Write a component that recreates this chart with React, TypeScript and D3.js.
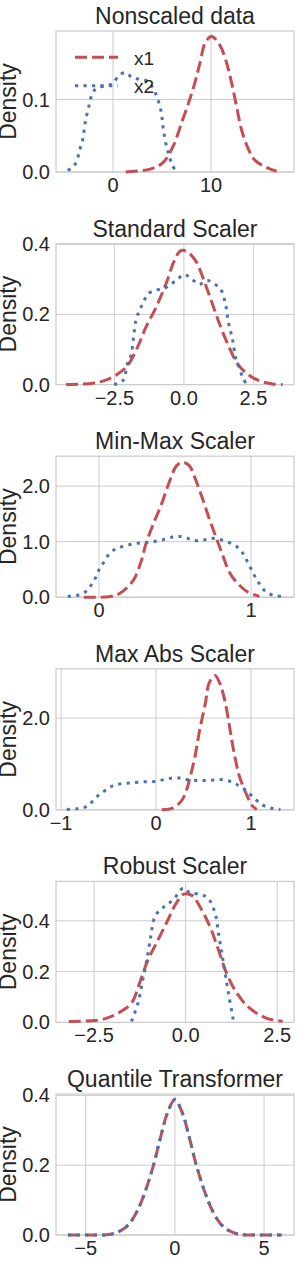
import React from 'react';
import * as d3 from 'd3';

type Pt = [number, number];

const titles = ['Nonscaled data', 'Standard Scaler', 'Min-Max Scaler', 'Max Abs Scaler', 'Robust Scaler', 'Quantile Transformer'];
const seriesNames = ['x1', 'x2'];

// density curves, [value, density]
const nonscaledX1: Pt[] = [
  [1.3, 0.0], [3.8, 0.004], [5.1, 0.013], [6.15, 0.036], [7.0, 0.068], [7.7, 0.095], [8.35, 0.123],
  [8.9, 0.152], [9.4, 0.178], [10.05, 0.187], [10.9, 0.175], [11.6, 0.15], [12.1, 0.123], [12.6, 0.091],
  [13.1, 0.059], [13.8, 0.032], [14.5, 0.016], [15.7, 0.006], [16.7, 0.001],
];
const nonscaledX2: Pt[] = [
  [-4.62, 0.002], [-3.95, 0.009], [-3.6, 0.02], [-3.37, 0.032], [-3.09, 0.045], [-2.83, 0.069], [-2.42, 0.093],
  [-2.14, 0.107], [-1.73, 0.115], [-0.8, 0.119], [-0.03, 0.122], [0.58, 0.133], [1.26, 0.137], [2.0, 0.13],
  [2.68, 0.128], [3.54, 0.125], [4.32, 0.109], [4.9, 0.084], [5.13, 0.059], [5.48, 0.034], [5.74, 0.022],
  [6.0, 0.011], [6.36, 0.002],
];
const standardX1: Pt[] = [
  [-4.24, 0.0], [-3.28, 0.004], [-2.81, 0.013], [-2.38, 0.03], [-2.03, 0.054], [-1.67, 0.106], [-1.37, 0.163],
  [-1.01, 0.219], [-0.65, 0.286], [-0.35, 0.352], [-0.11, 0.382], [0.13, 0.378], [0.43, 0.352], [0.73, 0.295],
  [1.03, 0.229], [1.33, 0.163], [1.63, 0.106], [1.93, 0.059], [2.29, 0.03], [2.71, 0.011], [3.19, 0.002], [3.55, 0.0],
];
const standardX2: Pt[] = [
  [-2.51, 0.0], [-2.2, 0.011], [-2.03, 0.059], [-1.91, 0.082], [-1.81, 0.134], [-1.73, 0.182], [-1.61, 0.21],
  [-1.46, 0.233], [-1.31, 0.257], [-1.03, 0.269], [-0.74, 0.273], [-0.47, 0.286], [-0.23, 0.3], [0.01, 0.314],
  [0.29, 0.3], [0.55, 0.286], [0.85, 0.297], [1.1, 0.287], [1.33, 0.271], [1.51, 0.224], [1.59, 0.182],
  [1.69, 0.148], [1.77, 0.12], [1.87, 0.073], [2.01, 0.045], [2.11, 0.021], [2.23, 0.004],
];
const minMaxX1: Pt[] = [
  [-0.1, 0.0], [0.068, 0.01], [0.134, 0.065], [0.189, 0.185], [0.232, 0.334], [0.276, 0.634], [0.309, 0.962],
  [0.353, 1.293], [0.408, 1.652], [0.462, 2.07], [0.511, 2.37], [0.551, 2.43], [0.594, 2.37], [0.638, 2.1],
  [0.682, 1.77], [0.726, 1.41], [0.77, 1.08], [0.814, 0.754], [0.857, 0.454], [0.913, 0.244], [0.978, 0.095],
  [1.055, 0.015],
];
const minMaxX2: Pt[] = [
  [-0.206, 0.015], [-0.14, 0.036], [-0.09, 0.095], [-0.053, 0.215], [-0.02, 0.364], [0.002, 0.503], [0.035, 0.646],
  [0.068, 0.783], [0.112, 0.873], [0.166, 0.921], [0.226, 0.962], [0.283, 0.98], [0.342, 0.993], [0.401, 1.023],
  [0.459, 1.065], [0.511, 1.1], [0.568, 1.075], [0.62, 1.023], [0.678, 1.023], [0.737, 1.06], [0.792, 1.041],
  [0.847, 0.993], [0.901, 0.921], [0.941, 0.813], [0.972, 0.664], [1.0, 0.513], [1.028, 0.364], [1.059, 0.226],
  [1.094, 0.108], [1.143, 0.036], [1.197, 0.015],
];
const maxAbsX1: Pt[] = [
  [0.06, 0.0], [0.18, 0.044], [0.27, 0.2], [0.32, 0.42], [0.36, 0.72], [0.41, 1.16], [0.46, 1.74], [0.52, 2.33],
  [0.56, 2.77], [0.62, 2.93], [0.67, 2.77], [0.73, 2.33], [0.78, 1.74], [0.83, 1.16], [0.88, 0.72], [0.95, 0.35],
  [1.01, 0.095], [1.06, 0.007],
];
const maxAbsX2: Pt[] = [
  [-0.94, 0.007], [-0.83, 0.022], [-0.73, 0.073], [-0.66, 0.2], [-0.59, 0.35], [-0.52, 0.44], [-0.45, 0.53],
  [-0.36, 0.57], [-0.26, 0.59], [-0.13, 0.61], [-0.01, 0.62], [0.11, 0.67], [0.22, 0.7], [0.32, 0.66],
  [0.43, 0.64], [0.55, 0.64], [0.67, 0.66], [0.78, 0.62], [0.87, 0.53], [0.95, 0.42], [1.01, 0.3], [1.08, 0.17],
  [1.17, 0.057], [1.31, 0.007],
];
const robustX1: Pt[] = [
  [-3.19, 0.004], [-2.29, 0.011], [-1.84, 0.037], [-1.48, 0.076], [-1.26, 0.154], [-1.03, 0.245], [-0.76, 0.323],
  [-0.49, 0.401], [-0.27, 0.466], [-0.05, 0.505], [0.18, 0.499], [0.4, 0.453], [0.67, 0.375], [0.9, 0.284],
  [1.12, 0.193], [1.4, 0.115], [1.75, 0.056], [2.2, 0.017], [2.65, 0.004],
];
const robustX2: Pt[] = [
  [-1.48, 0.004], [-1.3, 0.076], [-1.17, 0.167], [-1.03, 0.271], [-0.94, 0.349], [-0.86, 0.408], [-0.72, 0.44],
  [-0.54, 0.46], [-0.32, 0.486], [-0.06, 0.529], [0.13, 0.508], [0.4, 0.505], [0.63, 0.486], [0.81, 0.427],
  [0.9, 0.349], [0.99, 0.271], [1.08, 0.193], [1.17, 0.115], [1.3, 0.011],
];
const quantileX1: Pt[] = [
  [-6.0, 0.0], [-4.5, 0.0], [-3.6, 0.002], [-3.05, 0.012], [-2.58, 0.031], [-2.11, 0.069], [-1.65, 0.127],
  [-1.18, 0.204], [-0.8, 0.281], [-0.43, 0.348], [0.0, 0.388], [0.43, 0.348], [0.8, 0.281], [1.18, 0.204],
  [1.65, 0.127], [2.11, 0.069], [2.58, 0.031], [3.05, 0.012], [3.6, 0.002], [4.5, 0.0], [6.0, 0.0],
];
const quantileX2: Pt[] = [
  [-6.0, 0.0], [-4.5, 0.0], [-3.6, 0.002], [-3.05, 0.012], [-2.58, 0.031], [-2.11, 0.069], [-1.65, 0.127],
  [-1.18, 0.204], [-0.8, 0.281], [-0.43, 0.348], [0.0, 0.388], [0.43, 0.348], [0.8, 0.281], [1.18, 0.204],
  [1.65, 0.127], [2.11, 0.069], [2.58, 0.031], [3.05, 0.012], [3.6, 0.002], [4.5, 0.0], [6.0, 0.0],
];

const x1Series = [nonscaledX1, standardX1, minMaxX1, maxAbsX1, robustX1, quantileX1];
const x2Series = [nonscaledX2, standardX2, minMaxX2, maxAbsX2, robustX2, quantileX2];

const xTicks = [[0, 10], [-2.5, 0, 2.5], [0, 1], [-1, 0, 1], [-2.5, 0, 2.5], [-5, 0, 5]];
const yTicks = [[0, 0.1], [0, 0.2, 0.4], [0, 1, 2], [0, 2], [0, 0.2, 0.4], [0, 0.2, 0.4]];
const xFormats = ['d', '.1f', 'd', 'd', '.1f', 'd'];

// axis limits per panel
const xDomains: [number, number][] = [[-5.82, 18.47], [-4.6, 3.96], [-0.283, 1.283], [-1.053, 1.453], [-3.54, 2.96], [-6.67, 6.68]];
const yDomains: [number, number][] = [[0, 0.1945], [0, 0.402], [0, 2.54], [0, 3.077], [0, 0.555], [0, 0.404]];

const W = 298;
const H = 1263;
const left = 56;
const right = 294;
const top0 = 31;
const step = 212.6;
const plotH = 141;

const RED = '#c44e52';
const BLUE = '#4c72b0';
const GRID = '#cccccc';
const TEXT = '#262626';
const FONT = '"Liberation Sans", Arial, sans-serif';

const Panel: React.FC<{ i: number }> = ({ i }) => {
  const top = top0 + step * i;
  const bottom = top + plotH;
  const x = d3.scaleLinear().domain(xDomains[i]).range([left, right]);
  const y = d3.scaleLinear().domain(yDomains[i]).range([bottom, top]);
  const line = d3.line<Pt>()
    .x(d => x(d[0]))
    .y(d => y(d[1]))
    .curve(d3.curveCatmullRom.alpha(0.5));
  const fx = d3.format(xFormats[i]);
  const fy = d3.format('.1f');

  return (
    <g>
      {xTicks[i].map(t => (
        <line key={'gx' + t} x1={x(t)} x2={x(t)} y1={top} y2={bottom} stroke={GRID} strokeWidth={1} />
      ))}
      {yTicks[i].map(t => (
        <line key={'gy' + t} x1={left} x2={right} y1={y(t)} y2={y(t)} stroke={GRID} strokeWidth={1} />
      ))}
      <rect x={left} y={top} width={right - left} height={plotH} fill="none" stroke={GRID} strokeWidth={1.25} />

      <path d={line(x1Series[i]) || ''} fill="none" stroke={RED} strokeWidth={3} strokeDasharray="12,5" />
      <path d={line(x2Series[i]) || ''} fill="none" stroke={BLUE} strokeWidth={3} strokeDasharray="3.2,5.3" />

      {xTicks[i].map(t => (
        <text key={'tx' + t} x={x(t)} y={bottom + 20} textAnchor="middle" fontSize={20} fill={TEXT}>{fx(t)}</text>
      ))}
      {yTicks[i].map(t => (
        <text key={'ty' + t} x={left - 6} y={y(t)} dy="0.35em" textAnchor="end" fontSize={20} fill={TEXT}>{fy(t)}</text>
      ))}

      <text x={(left + right) / 2} y={top - 7} textAnchor="middle" fontSize={23} fill={TEXT}>{titles[i]}</text>
      <text transform={`translate(16,${top + plotH / 2}) rotate(-90)`} textAnchor="middle" fontSize={23} fill={TEXT}>Density</text>

      {i === 0 && (
        <g>
          <line x1={75} x2={118} y1={57.3} y2={57.3} stroke={RED} strokeWidth={3} strokeDasharray="12,5" />
          <text x={134} y={64.5} fontSize={19} fill={TEXT}>{seriesNames[0]}</text>
          <line x1={75} x2={118} y1={85.7} y2={85.7} stroke={BLUE} strokeWidth={3} strokeDasharray="3.2,5.3" />
          <text x={134} y={93} fontSize={19} fill={TEXT}>{seriesNames[1]}</text>
        </g>
      )}
    </g>
  );
};

export default function App() {
  return (
    <div style={{ position: 'absolute', left: 0, top: 0, width: W, height: H, background: '#fff' }}>
      <svg width={W} height={H} viewBox={`0 0 ${W} ${H}`} style={{ display: 'block', fontFamily: FONT }}>
        <rect width={W} height={H} fill="#fff" />
        {titles.map((_, i) => <Panel key={i} i={i} />)}
      </svg>
    </div>
  );
}
